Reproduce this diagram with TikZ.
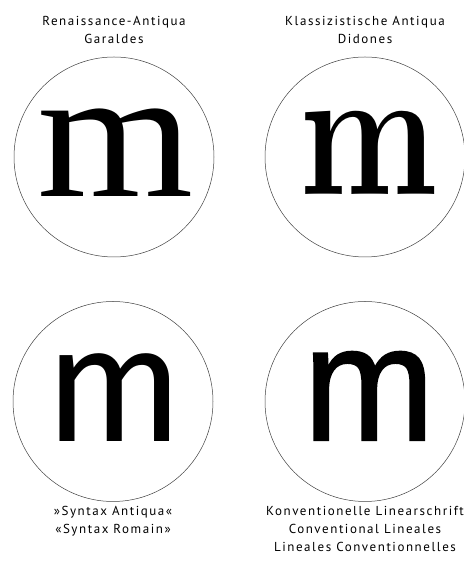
\documentclass[tikz,border=0pt]{standalone}
\usepackage{fontspec}
\usetikzlibrary{positioning}
\newfontfamily\garfont{Liberation Serif}
\newfontfamily\synfont{Fira Sans}
\newfontfamily\linfont[FakeBold=1.3]{Liberation Sans}
\newfontfamily\lblfont[LetterSpace=12]{PT Sans}

\begin{document}
\begin{tikzpicture}[
x=1pt,y=1pt,
ring/.style={circle,draw=black!75,line width=0.5pt,minimum size=200pt,inner sep=0pt},
glyph/.style={anchor=base,inner sep=0pt,transform shape},
lbl/.style={align=center,inner sep=0pt,font=\lblfont\fontsize{13}{18}\selectfont}
]
\useasboundingbox (0,0) rectangle (463,567);
% the four circles
\node[ring] (gar) at (114,410) {};
\node[ring] (did) at (365,410) {};
\node[ring] (syn) at (113,165.5) {};
\node[ring] (lin) at (365,165.5) {};
% letter m in each style
\node[glyph,xscale=1.08] (garm) at (116,370) {\garfont\fontsize{186}{186}\selectfont m};
\node[glyph,xscale=0.8] (didm) at (369,372) {\fontsize{185}{185}\selectfont\bfseries\addfontfeature{FakeBold=1.2}m};
\node[glyph] (synm) at (114,125) {\synfont\fontsize{163}{163}\selectfont m};
\node[glyph,xscale=0.96] (linm) at (369,127) {\linfont\fontsize{164}{164}\selectfont m};
% captions
\node[lbl,above=13pt of gar] (garlbl) {Renaissance-Antiqua\\Garaldes};
\node[lbl,above=13pt of did] (didlbl) {Klassizistische Antiqua\\Didones};
\node[lbl,below=4pt of syn] (synlbl) {»Syntax Antiqua«\\«Syntax Romain»};
\node[lbl,below=4pt of lin] (linlbl) {Konventionelle Linearschrift\\Conventional Lineales\\Lineales Conventionnelles};
\end{tikzpicture}
\end{document}
